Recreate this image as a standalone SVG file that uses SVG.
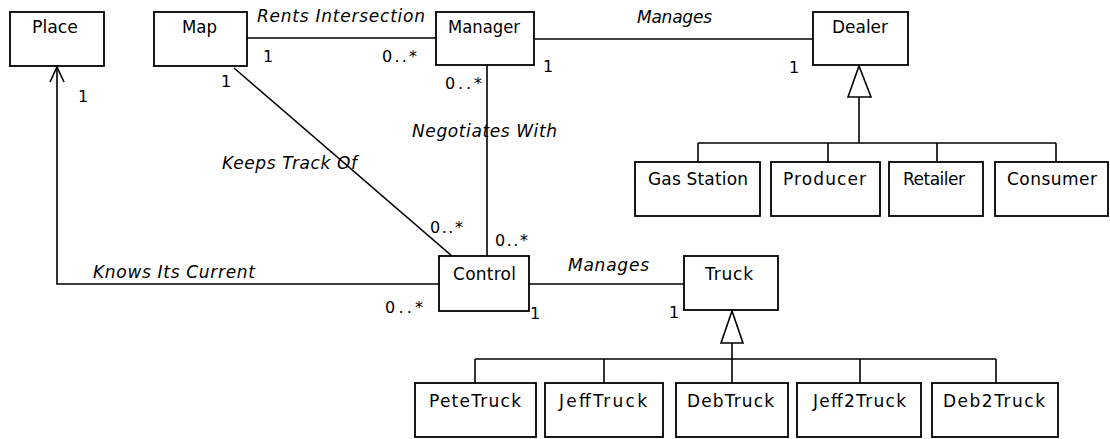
<svg xmlns="http://www.w3.org/2000/svg" width="1110" height="439" viewBox="0 0 1110 439">
<style>
  .box { fill: #fff; stroke: #000; stroke-width: 1.8; }
  .ln { fill: none; stroke: #000; stroke-width: 1.6; }
  .tri { fill: #fff; stroke: #000; stroke-width: 1.6; stroke-linejoin: miter; }
  .nm { font-family: "DejaVu Sans", Verdana, sans-serif; font-size: 17px; fill: #000; }
  .lb { font-family: "DejaVu Sans", Verdana, sans-serif; font-size: 17px; font-style: italic; fill: #000; }
  .mu { font-family: "DejaVu Sans", Verdana, sans-serif; font-size: 16px; fill: #000; }
</style>
<rect width="1110" height="439" fill="#fff"/>
<g id="connectors">
  <line class="ln" x1="247" y1="38" x2="436" y2="38"/>
  <line class="ln" x1="534" y1="39" x2="813" y2="39"/>
  <line class="ln" x1="234" y1="68" x2="452" y2="256"/>
  <line class="ln" x1="487" y1="65" x2="487" y2="256"/>
  <polyline class="ln" points="439,284 57,284 57,67"/>
  <polyline class="ln" points="50,82 57,67 64,82"/>
  <line class="ln" x1="529" y1="284" x2="684" y2="284"/>
  <polyline class="ln" points="859,97 859,143"/>
  <line class="ln" x1="698" y1="143" x2="1056" y2="143"/>
  <line class="ln" x1="698" y1="143" x2="698" y2="162"/>
  <line class="ln" x1="828" y1="143" x2="828" y2="162"/>
  <line class="ln" x1="937" y1="143" x2="937" y2="162"/>
  <line class="ln" x1="1056" y1="143" x2="1056" y2="162"/>
  <polygon class="tri" points="859,66 848,97 871,97"/>
  <line class="ln" x1="732" y1="343" x2="732" y2="383"/>
  <line class="ln" x1="475" y1="359" x2="996" y2="359"/>
  <line class="ln" x1="475" y1="359" x2="475" y2="383"/>
  <line class="ln" x1="604" y1="359" x2="604" y2="383"/>
  <line class="ln" x1="860" y1="359" x2="860" y2="383"/>
  <line class="ln" x1="996" y1="359" x2="996" y2="383"/>
  <polygon class="tri" points="732,311 721,343 743,343"/>
  <text class="lb" x="257" y="22" textLength="168" lengthAdjust="spacing">Rents Intersection</text>
  <text class="lb" x="637" y="23" textLength="75" lengthAdjust="spacing">Manages</text>
  <text class="lb" x="412" y="137" textLength="145" lengthAdjust="spacing">Negotiates With</text>
  <text class="lb" x="222" y="169" textLength="135" lengthAdjust="spacing">Keeps Track Of</text>
  <text class="lb" x="93" y="278" textLength="162" lengthAdjust="spacing">Knows Its Current</text>
  <text class="lb" x="568" y="271" textLength="81" lengthAdjust="spacing">Manages</text>
  <text class="mu" x="263" y="62">1</text>
  <text class="mu" x="382" y="62" textLength="35" lengthAdjust="spacing">0..*</text>
  <text class="mu" x="543" y="72">1</text>
  <text class="mu" x="789" y="73">1</text>
  <text class="mu" x="221" y="87">1</text>
  <text class="mu" x="78" y="102">1</text>
  <text class="mu" x="445" y="89" textLength="37" lengthAdjust="spacing">0..*</text>
  <text class="mu" x="430" y="233" textLength="33" lengthAdjust="spacing">0..*</text>
  <text class="mu" x="495" y="246" textLength="33" lengthAdjust="spacing">0..*</text>
  <text class="mu" x="385" y="313" textLength="38" lengthAdjust="spacing">0..*</text>
  <text class="mu" x="530" y="319">1</text>
  <text class="mu" x="669" y="318">1</text>
</g>
<g id="place"><rect class="box" x="10" y="12" width="94" height="54"/><text class="nm" x="32" y="33" textLength="46" lengthAdjust="spacingAndGlyphs">Place</text></g>
<g id="map"><rect class="box" x="154" y="12" width="93" height="54"/><text class="nm" x="182" y="33" textLength="35" lengthAdjust="spacingAndGlyphs">Map</text></g>
<g id="manager"><rect class="box" x="436" y="12" width="98" height="53"/><text class="nm" x="448" y="33" textLength="72" lengthAdjust="spacingAndGlyphs">Manager</text></g>
<g id="dealer"><rect class="box" x="813" y="12" width="95" height="53"/><text class="nm" x="832" y="33" textLength="56" lengthAdjust="spacingAndGlyphs">Dealer</text></g>
<g id="gasstation"><rect class="box" x="635" y="162" width="125" height="54"/><text class="nm" x="648" y="185" textLength="100" lengthAdjust="spacing">Gas Station</text></g>
<g id="producer"><rect class="box" x="771" y="162" width="109" height="54"/><text class="nm" x="783" y="185" textLength="83" lengthAdjust="spacing">Producer</text></g>
<g id="retailer"><rect class="box" x="889" y="162" width="94" height="54"/><text class="nm" x="903" y="185" textLength="62" lengthAdjust="spacing">Retailer</text></g>
<g id="consumer"><rect class="box" x="995" y="162" width="113" height="54"/><text class="nm" x="1007" y="185" textLength="90" lengthAdjust="spacing">Consumer</text></g>
<g id="control"><rect class="box" x="439" y="256" width="90" height="55"/><text class="nm" x="453" y="280" textLength="63" lengthAdjust="spacing">Control</text></g>
<g id="truck"><rect class="box" x="684" y="256" width="94" height="54"/><text class="nm" x="705" y="280" textLength="48" lengthAdjust="spacing">Truck</text></g>
<g id="petetruck"><rect class="box" x="415" y="383" width="121" height="54"/><text class="nm" x="429" y="407" textLength="92" lengthAdjust="spacing">PeteTruck</text></g>
<g id="jefftruck"><rect class="box" x="545" y="383" width="118" height="54"/><text class="nm" x="559" y="407" textLength="88" lengthAdjust="spacing">JeffTruck</text></g>
<g id="debtruck"><rect class="box" x="676" y="383" width="112" height="54"/><text class="nm" x="687" y="407" textLength="87" lengthAdjust="spacing">DebTruck</text></g>
<g id="jeff2truck"><rect class="box" x="797" y="383" width="124" height="54"/><text class="nm" x="813" y="407" textLength="93" lengthAdjust="spacing">Jeff2Truck</text></g>
<g id="deb2truck"><rect class="box" x="932" y="383" width="126" height="54"/><text class="nm" x="943" y="407" textLength="102" lengthAdjust="spacing">Deb2Truck</text></g>
</svg>
